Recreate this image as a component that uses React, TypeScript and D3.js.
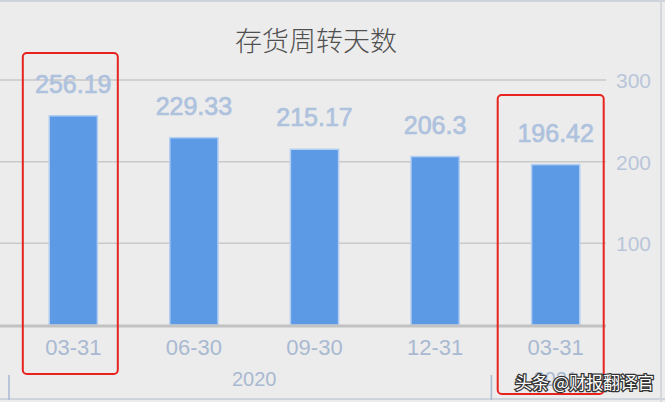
import { useEffect, useRef } from 'react';
import * as d3 from 'd3';

// data
const periods: string[] = ['03-31', '06-30', '09-30', '12-31', '03-31'];
const years: string[] = ['2020', '2020', '2020', '2020', '2021'];
const turnoverDays: number[] = [256.19, 229.33, 215.17, 206.3, 196.42];
const yTicks: number[] = [100, 200, 300];
const highlighted: number[] = [0, 4];

const App: React.FC = () => {
  const svgRef = useRef<SVGSVGElement | null>(null);

  useEffect(() => {
    document.body.style.margin = '0';
    if (!svgRef.current) return;

    const width = 665;
    const height = 402;
    const plotRight = 606;
    const baseY = 325;

    const keys = periods.map((_, i) => String(i));

    const x = d3
      .scaleBand()
      .domain(keys)
      .range([13, 616])
      .paddingInner(0.6)
      .paddingOuter(0.3);

    const y = d3.scaleLinear().domain([0, 300]).range([baseY, 80]);

    const svg = d3.select(svgRef.current);
    svg.selectAll('*').remove();

    svg.append('rect').attr('width', width).attr('height', height).attr('fill', '#ececec');

    // frame
    svg.append('line').attr('x1', 0).attr('x2', width).attr('y1', 1).attr('y2', 1)
      .attr('stroke', '#cfd3dc').attr('stroke-width', 2);
    svg.append('line').attr('x1', 0).attr('x2', width).attr('y1', 399).attr('y2', 399)
      .attr('stroke', '#cfd3dc').attr('stroke-width', 2);
    svg.append('line').attr('x1', 661).attr('x2', 661).attr('y1', 0).attr('y2', height)
      .attr('stroke', '#d4d7de').attr('stroke-width', 2);

    // title
    svg.append('text')
      .attr('x', 316).attr('y', 51)
      .attr('text-anchor', 'middle')
      .attr('font-family', '"Noto Sans CJK SC", sans-serif')
      .attr('font-size', 27)
      .attr('font-weight', 300)
      .attr('fill', '#505050')
      .text('存货周转天数');

    // grid + right axis
    const grid = svg.append('g');
    grid.selectAll('line')
      .data(yTicks)
      .enter()
      .append('line')
      .attr('x1', 0).attr('x2', plotRight)
      .attr('y1', (d) => y(d)).attr('y2', (d) => y(d))
      .attr('stroke', '#c9c9c9').attr('stroke-width', 1.5);
    grid.selectAll('text')
      .data(yTicks)
      .enter()
      .append('text')
      .attr('x', 616).attr('y', (d) => y(d) + 8)
      .attr('font-family', '"Liberation Sans", sans-serif')
      .attr('font-size', 21)
      .attr('fill', '#b9c6da')
      .text((d) => d);

    // bars
    svg.selectAll('.bar')
      .data(turnoverDays)
      .enter()
      .append('rect')
      .attr('class', 'bar')
      .attr('x', (_, i) => x(keys[i]) ?? 0)
      .attr('y', (d) => y(d))
      .attr('width', x.bandwidth())
      .attr('height', (d) => baseY - y(d))
      .attr('fill', '#5c9ae6')
      .attr('stroke', '#b4cff2')
      .attr('stroke-width', 1.5);

    // axis line
    svg.append('line')
      .attr('x1', 0).attr('x2', plotRight)
      .attr('y1', baseY + 1).attr('y2', baseY + 1)
      .attr('stroke', '#c2c2c2').attr('stroke-width', 3);

    // value labels
    svg.selectAll('.val')
      .data(turnoverDays)
      .enter()
      .append('text')
      .attr('class', 'val')
      .attr('x', (_, i) => (x(keys[i]) ?? 0) + x.bandwidth() / 2)
      .attr('y', (d) => y(d) - 23)
      .attr('text-anchor', 'middle')
      .attr('font-family', '"Liberation Sans", sans-serif')
      .attr('font-size', 25)
      .attr('fill', '#aec2de')
      .attr('stroke', '#aec2de')
      .attr('stroke-width', 0.7)
      .text((d) => d);

    // period labels
    svg.selectAll('.period')
      .data(periods)
      .enter()
      .append('text')
      .attr('class', 'period')
      .attr('x', (_, i) => (x(keys[i]) ?? 0) + x.bandwidth() / 2)
      .attr('y', 355)
      .attr('text-anchor', 'middle')
      .attr('font-family', '"Liberation Sans", sans-serif')
      .attr('font-size', 22)
      .attr('fill', '#a9b9d2')
      .text((d) => d);

    // year groups
    const yearGroups = d3.groups(years.map((yr, i) => ({ yr, i })), (d) => d.yr);
    yearGroups.forEach(([yr, items]) => {
      const first = items[0].i;
      const last = items[items.length - 1].i;
      const cx = ((x(keys[first]) ?? 0) + (x(keys[last]) ?? 0) + x.bandwidth()) / 2;
      svg.append('text')
        .attr('x', cx).attr('y', 386)
        .attr('text-anchor', 'middle')
        .attr('font-family', '"Liberation Sans", sans-serif')
        .attr('font-size', 20)
        .attr('fill', '#a9b9d2')
        .text(yr);
      const sepX = (x(keys[first]) ?? 0) - x.step() * 0.3 - 4;
      svg.append('line')
        .attr('x1', sepX).attr('x2', sepX)
        .attr('y1', 375).attr('y2', 400)
        .attr('stroke', '#a9b9d2').attr('stroke-width', 1.5);
    });

    // red highlight boxes: [bar index, left offset, right offset, top, bottom]
    const boxes: [number, number, number, number, number][] = [
      [highlighted[0], -50.5, 44.5, 53, 374],
      [highlighted[1], -58, 48, 95, 394],
    ];
    boxes.forEach(([idx, lo, hi, top, bottom]) => {
      const cx = (x(keys[idx]) ?? 0) + x.bandwidth() / 2;
      svg.append('rect')
        .attr('x', cx + lo).attr('y', top)
        .attr('width', hi - lo).attr('height', bottom - top)
        .attr('rx', 4)
        .attr('fill', 'none')
        .attr('stroke', '#e8231f')
        .attr('stroke-width', 2);
    });

    // watermark
    svg.append('text')
      .attr('x', 515).attr('y', 389)
      .attr('font-family', '"Noto Sans CJK SC", sans-serif')
      .attr('font-size', 17)
      .attr('fill', '#fff')
      .attr('stroke', '#333')
      .attr('stroke-width', 2.5)
      .attr('paint-order', 'stroke')
      .text('头条 @财报翻译官');
  }, []);

  return <svg ref={svgRef} width={665} height={402} style={{ display: 'block' }}></svg>;
};

export default App;
